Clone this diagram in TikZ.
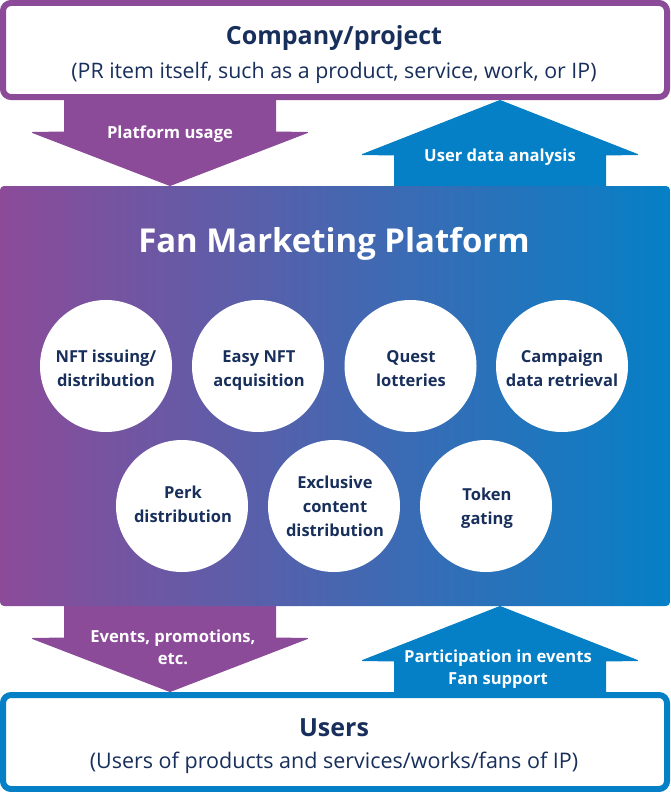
\documentclass[tikz,border=0pt]{standalone}
\usepackage{fontspec}
\setmainfont{Open Sans}
\definecolor{purp}{HTML}{8C4B99}
\definecolor{blu}{HTML}{0580C6}
\definecolor{ink}{HTML}{182F5C}
\tikzset{
  outerbox/.style={draw=#1,line width=6pt,rounded corners=8pt,fill=white,minimum width=664pt,inner sep=0pt,anchor=center},
  bigarrow/.style={fill=#1,draw=#1,line width=1pt,line join=round},
  circ/.style={circle,fill=white,minimum size=132pt,inner sep=0pt},
  ctext/.style={inner sep=0pt,align=center,text=ink,font=\fontsize{16.5}{24}\selectfont\bfseries},
  alabel/.style={text=white,align=center,inner sep=0pt,font=\fontsize{16.6}{22}\selectfont\bfseries},
  titletext/.style={text=ink,font=\fontsize{25}{30}\selectfont\bfseries},
  subtext/.style={text=ink,font=\fontsize{21.35}{26}\selectfont},
}
\begin{document}
\begin{tikzpicture}[x=1pt,y=-1pt]
\useasboundingbox (0,0) rectangle (670,792);
% arrows behind
\draw[bigarrow=purp] (64.5,98) -- (64.5,132) -- (32.5,132.5) -- (170,185.5) -- (307.5,132.5) -- (275.5,132) -- (275.5,98) -- cycle;
\draw[bigarrow=blu] (394.5,190) -- (394.5,155) -- (362.5,154.5) -- (500,100.5) -- (637.5,154.5) -- (605.5,155) -- (605.5,190) -- cycle;
\draw[bigarrow=purp] (64.5,604) -- (64.5,638) -- (32.5,638.5) -- (170,691.5) -- (307.5,638.5) -- (275.5,638) -- (275.5,604) -- cycle;
\draw[bigarrow=blu] (394.5,696) -- (394.5,661) -- (362.5,660.5) -- (500,606.5) -- (637.5,660.5) -- (605.5,661) -- (605.5,696) -- cycle;
% boxes
\node[outerbox=purp,minimum height=94pt] (company) at (335,50) {};
\node[outerbox=blu,minimum height=94pt] (users) at (335,742) {};
\shade[left color=purp,right color=blu,rounded corners=4pt] (0,186) rectangle (670,606);
\node[titletext] (t1) at (334,38) {Company/project};
\node[subtext] (s1) at (334,72.5) {(PR item itself, such as a product, service, work, or IP)};
\node[titletext] (t2) at (334,727.5) {Users};
\node[subtext,font=\fontsize{21.5}{26}\selectfont] (s2) at (334,763) {(Users of products and services/works/fans of IP)};
\node[text=white,font=\fontsize{32.9}{40}\selectfont\bfseries] (fm) at (334,244) {Fan Marketing Platform};
% labels
\node[alabel] (l1) at (170,134) {Platform usage};
\node[alabel] (l2) at (500,157) {User data analysis};
\node[alabel] (l3) at (173,647) {Events, promotions,\\etc.};
\node[alabel] (l4) at (498,669) {Participation in events\\Fan support};
% circles
\node[circ] (c1) at (106,366) {};
\node[circ] (c2) at (258,366) {};
\node[circ] (c3) at (410.5,366) {};
\node[circ] (c4) at (562,366) {};
\node[circ] (c5) at (182,506) {};
\node[circ] (c6) at (334,506) {};
\node[circ] (c7) at (486,506) {};
\node[ctext] (x1) at (106,370) {\strut NFT issuing/\\\strut distribution};
\node[ctext] (x2) at (259,370) {\strut Easy NFT\\\strut acquisition};
\node[ctext] (x3) at (411,370) {\strut Quest\\\strut lotteries};
\node[ctext] (x4) at (562,370) {\strut Campaign\\\strut data retrieval};
\node[ctext] (x5) at (183,506) {\strut Perk\\\strut distribution};
\node[ctext] (x6) at (335,508) {\strut Exclusive\\\strut content\\\strut distribution};
\node[ctext] (x7) at (487,508) {\strut Token\\\strut gating};
\end{tikzpicture}
\end{document}
